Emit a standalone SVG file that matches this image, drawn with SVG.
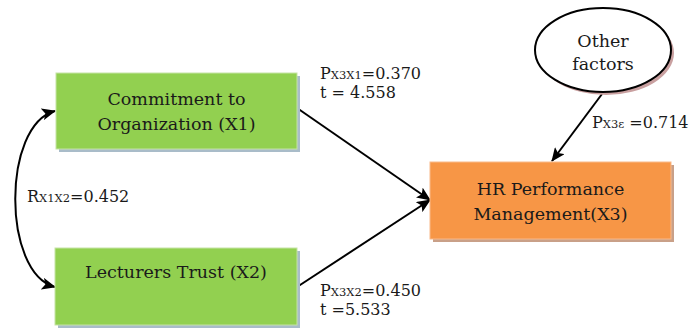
<svg xmlns="http://www.w3.org/2000/svg" width="690" height="328" viewBox="0 0 690 328">
<style>
.t{font-family:"DejaVu Serif","Liberation Serif",serif;font-size:16px;fill:#1a1a1a}
.b{font-size:17.5px}
.n{text-anchor:middle}
.s{font-size:11.5px}
.c{stroke:#000;stroke-width:2;fill:none}
</style>
<defs>
<marker id="ah" markerWidth="14" markerHeight="12" refX="13" refY="6" orient="auto" markerUnits="userSpaceOnUse">
<path d="M0,0 L14,6 L0,12 L3,6 Z" fill="#000"/>
</marker>
<marker id="as" markerWidth="14" markerHeight="12" refX="1" refY="6" orient="auto" markerUnits="userSpaceOnUse">
<path d="M14,0 L0,6 L14,12 L11,6 Z" fill="#000"/>
</marker>
</defs>
<rect width="690" height="328" fill="#fff"/>
<g id="connectors">
<path class="c" d="M55,111 C2,125 2,273 55,287" marker-start="url(#as)" marker-end="url(#ah)"/>
<line class="c" x1="297" y1="108" x2="430" y2="200" marker-end="url(#ah)"/>
<line class="c" x1="297" y1="287" x2="430" y2="200" marker-end="url(#ah)"/>
<line class="c" x1="602" y1="94" x2="552" y2="161" marker-end="url(#ah)"/>
</g>
<g id="x1">
<rect x="59" y="76" width="241" height="76" fill="#a9bcc9"/>
<rect x="56" y="73" width="241" height="76" fill="#92d050" stroke="#c5e3a5" stroke-width="1"/>
<text class="t b n" x="176.5" y="105">Commitment to</text>
<text class="t b n" x="176.5" y="130">Organization (X1)</text>
</g>
<g id="x2">
<rect x="58" y="251" width="242" height="77" fill="#a9bcc9"/>
<rect x="55" y="248" width="242" height="77" fill="#92d050" stroke="#c5e3a5" stroke-width="1"/>
<text class="t b n" x="176" y="278">Lecturers Trust (X2)</text>
</g>
<g id="x3">
<rect x="433" y="165" width="241" height="77" fill="#c9a088"/>
<rect x="430" y="162" width="241" height="77" fill="#f79646" stroke="#f9b98a" stroke-width="1"/>
<text class="t b n" x="550.5" y="195">HR Performance</text>
<text class="t b n" x="550.5" y="220">Management(X3)</text>
</g>
<g id="other">
<ellipse cx="606" cy="53" rx="68" ry="42" fill="#c9a0a0"/>
<ellipse cx="603" cy="50" rx="68" ry="42" fill="#fff" stroke="#000" stroke-width="2"/>
<text class="t b n" x="603" y="47">Other</text>
<text class="t b n" x="603" y="70">factors</text>
</g>
<g id="labels">
<text class="t" x="320" y="79">P<tspan class="s">X3X1</tspan>=0.370</text>
<text class="t" x="320" y="98">t = 4.558</text>
<text class="t" x="592" y="128">P<tspan class="s">X3ε</tspan> =0.714</text>
<text class="t" x="320" y="296">P<tspan class="s">X3X2</tspan>=0.450</text>
<text class="t" x="320" y="315">t =5.533</text>
<text class="t" x="27" y="202">R<tspan class="s">X1X2</tspan>=0.452</text>
</g>
</svg>
